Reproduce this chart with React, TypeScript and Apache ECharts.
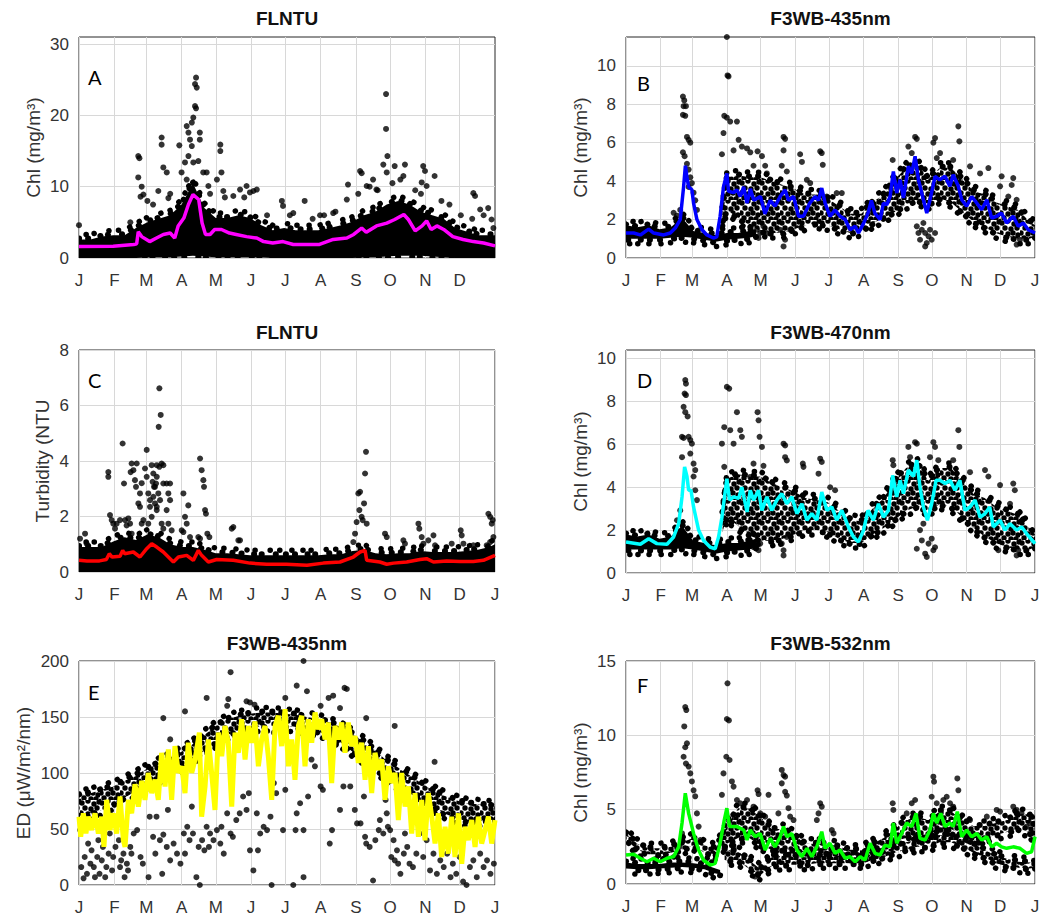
import React, { useEffect, useRef } from 'react';
import * as echarts from 'echarts';

const MONTH_DAYS = [0, 31, 59, 90, 120, 151, 181, 212, 243, 273, 304, 334, 365];
const MONTH_LABELS = ['J', 'F', 'M', 'A', 'M', 'J', 'J', 'A', 'S', 'O', 'N', 'D', 'J'];

const titles = ['FLNTU', 'F3WB-435nm', 'FLNTU', 'F3WB-470nm', 'F3WB-435nm', 'F3WB-532nm'];
const letters = ['A', 'B', 'C', 'D', 'E', 'F'];
const yNames = ['Chl (mg/m³)', 'Chl (mg/m³)', 'Turbidity (NTU', 'Chl (mg/m³)', 'ED (μW/m²/nm)', 'Chl (mg/m³)'];
const yTicksA = [0, 10, 20, 30];
const yTicksB = [0, 2, 4, 6, 8, 10];
const yTicksC = [0, 2, 4, 6, 8];
const yTicksD = [0, 2, 4, 6, 8, 10];
const yTicksE = [0, 50, 100, 150, 200];
const yTicksF = [0, 5, 10, 15];

// ---------- Panel A (FLNTU chl) ----------
const aLine = [[0,1.6],[30,1.65],[48,1.9],[50.6,2.0],[52,3.7],[55,3.0],[62,2.3],[68,2.8],[74,3.3],[80,3.5],[84,2.8],[87,4.5],[92,5.6],[96,7.5],[100,8.9],[105,8.2],[108,4.9],[111,3.3],[115,3.3],[119,4.0],[125,4.0],[132,3.5],[138,3.3],[147,3.0],[156,2.8],[162,2.3],[170,2.1],[179,2.3],[188,1.9],[200,1.9],[211,1.9],[223,2.6],[235,2.8],[241,3.3],[248,4.2],[252,3.6],[261,4.5],[270,4.9],[277,5.4],[285,6.1],[289,5.4],[295,3.8],[301,4.5],[305,5.2],[309,4.0],[314,4.5],[320,4.0],[328,3.0],[337,2.6],[346,2.3],[355,2.1],[365,1.7]];
const aBand = [[0,0,2.6],[10,0,2.6],[20,0,3.0],[30,0,3.2],[40,0,3.2],[50,0,4.2],[60,0.1,5.0],[70,0.1,5.5],[80,0.1,6.0],[90,0.2,7.5],[100,0.3,10.5],[110,0.2,7.0],[120,0.1,5.6],[130,0.1,5.6],[140,0.1,6.0],[150,0.1,5.6],[160,0.1,4.6],[170,0,3.9],[180,0,4.2],[190,0,3.9],[200,0,3.9],[210,0,3.9],[220,0,4.2],[230,0,4.6],[240,0,5.1],[250,0.1,6.0],[260,0.1,6.5],[270,0.2,7.5],[280,0.3,8.0],[290,0.3,7.5],[300,0.3,6.5],[310,0.2,6.0],[320,0.1,5.5],[330,0,4.2],[340,0,3.7],[350,0,3.2],[360,0,3.2],[365,0,3.2]];
const aDots = [[0,4.6],[52,14.3],[53,14.0],[52,11.3],[55,10],[56.5,8.9],[54,8.6],[72.5,16.9],[72.5,15.9],[74,12.7],[77,12.0],[78.4,8.4],[69.6,9.4],[88,15.8],[94.5,18.5],[96,17.6],[97.4,16.6],[99,19.0],[100.3,19.7],[101.8,21.3],[102.7,21.0],[101.8,24.4],[102.7,25.3],[103.3,23.9],[99,15.7],[96,14.3],[100.3,13.4],[106,17.6],[106,16.6],[93,13.4],[90,12.0],[94.5,11.0],[104.7,13.6],[109,12.0],[112,12.0],[113.5,10.1],[124,15.9],[124,15.0],[125,12.0],[121,11.0],[126.6,9.4],[135.4,8.7],[141.3,9.6],[147,10.1],[153,9.4],[156,9.6],[178,8.0],[179,7.3],[188,6.3],[198,8.0],[211.5,6.0],[223,6.3],[235,8.2],[236,10.3],[246.6,12.2],[248,11.9],[252.4,10.1],[258,11.0],[261,9.6],[269.4,23.0],[269.4,18.1],[270.6,14.3],[267,13.1],[270,12.0],[277,12.9],[286,13.1],[284.6,11.5],[302,12.9],[303.6,12.2],[305,10.1],[312,11.5],[300.7,10.6],[346,9.1],[347.5,8.7],[352,6.8],[359,7.0],[362,5.4],[363.6,4.2],[45,5],[60,8],[65,7.5],[80,9],[115,9],[128,8.5],[145,8.5],[150,9.2],[165,6],[185,6],[205,5.5],[215,6],[225,6.5],[245,9],[255,10],[262,9.5],[275,10.5],[282,11],[295,9.5],[300,9],[318,8],[325,7.5],[335,6],[345,5.5],[355,6]];

// ---------- Panel B (F3WB-435nm chl) ----------
const bLine = [[0,1.3],[6.8,1.3],[12.8,1.2],[20.2,1.5],[24.7,1.3],[33.6,1.2],[39.5,1.3],[44,1.56],[48.4,2.0],[51.4,3.7],[53,4.8],[54.4,4.2],[55.9,3.7],[58.8,3.55],[60.3,2.86],[63.3,2.0],[67.8,1.47],[72.2,1.2],[78,1.04],[81,1.1],[84,2.17],[87,3.7],[90,4.4],[91.5,3.47],[96,3.4],[99,3.55],[102,3.2],[105,3.7],[108,2.86],[111,3.6],[114,3.0],[120,3.2],[124,2.3],[128.7,3.0],[133,2.7],[137.6,3.2],[142,3.55],[145,3.0],[149.5,3.2],[154,2.17],[158.4,2.17],[164,2.86],[168.8,3.2],[171.8,3.0],[174.7,3.64],[177.7,2.86],[182,2.17],[186.6,2.5],[191,2.17],[195.6,2.0],[200,1.47],[204.5,1.65],[207.5,1.3],[212,1.8],[216,2.34],[219,3.0],[222,2.34],[226.8,2.0],[229.7,2.86],[232.7,2.77],[235.7,3.2],[238.6,4.5],[241.6,3.38],[244.6,4.07],[247.6,3.12],[252,4.77],[255,4.4],[258,5.29],[261,4.07],[265.4,3.03],[268.4,2.34],[271.3,3.03],[275.8,4.25],[280,4.07],[284.7,4.25],[289,3.73],[292,4.33],[296.6,3.73],[299.6,3.03],[304,2.69],[308.5,3.2],[313,2.86],[317.4,2.51],[322,3.03],[326.3,2.08],[330.8,2.17],[335,2.34],[339.7,1.82],[345.6,2.17],[350,1.65],[354.6,1.82],[359,1.47],[365,1.3]];
const bBandLow = [[0,1.0,1.7],[10,1.0,1.6],[20,1.0,1.7],[30,1.0,1.5],[40,1.05,1.6],[50,1.1,2.1],[60,1.05,1.4],[70,0.95,1.3],[80,0.85,1.2],[90,0.95,1.3],[100,1.0,1.3],[110,1.05,1.4],[116,1.15,1.5]];
const bBandMain = [[86,1.9,2.6],[90,2.5,4.2],[100,2.1,4.3],[110,1.7,4.2],[120,1.4,4.2],[130,1.3,4.0],[140,1.3,3.8],[150,1.5,3.6],[160,1.7,3.3],[170,1.8,3.3],[180,1.7,3.1],[190,1.5,2.7],[200,1.3,2.3],[210,1.4,2.3],[220,1.8,2.9],[230,2.1,3.3],[240,2.4,4.1],[250,2.8,4.7],[260,3.0,4.9],[270,2.8,4.1],[280,3.1,4.7],[290,2.9,4.7],[300,2.4,4.1],[310,1.9,3.5],[320,1.6,3.3],[330,1.3,2.9],[340,1.1,2.7],[350,1.0,2.5],[360,1.0,1.9],[365,1.1,1.7]];
const bDots = [[50.8,8.4],[52,8.2],[51.4,7.9],[53.5,7.9],[50.8,7.45],[52.9,7.4],[54.4,6.3],[55.9,6.15],[57.4,6.0],[50.8,5.5],[52.3,5.3],[54.4,4.9],[55.9,4.6],[57.4,4.2],[58.8,3.9],[60.3,3.4],[61.8,3.0],[48.4,2.5],[45.5,2.2],[42.5,2.35],[55.9,3.7],[63.3,2.5],[90,11.5],[90.6,9.5],[91.5,9.45],[87.7,7.4],[90,7.3],[93,7.1],[99,7.1],[87,6.5],[85.6,5.4],[96,5.6],[100.5,6.15],[103.4,5.8],[108,5.7],[110.9,5.5],[113.8,4.8],[117.4,5.55],[121.3,5.3],[124.2,4.8],[125.7,4.4],[116.8,1.47],[118.3,1.04],[119.8,1.3],[125.7,1.3],[122.7,1.65],[140.6,6.3],[142,6.2],[140.6,5.6],[139,4.8],[143.5,4.5],[140.6,0.6],[142,0.95],[137.6,1.47],[146.5,1.47],[155.4,5.4],[157,5.0],[161.4,4.07],[164.4,3.9],[173.3,5.55],[174.7,5.46],[175.6,4.85],[179.2,3.2],[188,3.38],[192.6,3.38],[238,5.1],[252,5.8],[255,5.46],[258,6.3],[259.5,6.2],[274.3,6.0],[275.8,6.24],[277.3,5.2],[280.3,5.46],[259.5,1.65],[261,1.3],[262.4,0.95],[264,1.47],[267,1.3],[267,0.6],[268.4,0.78],[270,1.13],[271.3,1.47],[272.8,0.95],[275.8,1.3],[265.4,1.82],[296.6,6.85],[297.5,6.07],[292,5.1],[307,4.77],[316,4.4],[323.4,4.68],[333.8,3.73],[335.2,4.25],[344.2,3.8],[345.6,4.16],[348.6,3.03],[341.2,3.2],[351.6,0.95],[348.6,0.7]];

// ---------- Panel C (FLNTU turbidity) ----------
const cLine = [[0,0.42],[7,0.4],[18,0.4],[24,0.45],[26.6,0.66],[29,0.54],[36,0.57],[38.3,0.78],[40,0.66],[47.7,0.72],[53.5,0.54],[59.4,0.84],[63.8,1.02],[68.2,0.9],[74,0.72],[78.4,0.54],[82.8,0.36],[87.2,0.54],[94.5,0.6],[100.3,0.42],[104.7,0.78],[107.6,0.6],[113.5,0.36],[120.8,0.45],[135.4,0.42],[150,0.32],[164.7,0.28],[182,0.28],[200,0.24],[214.4,0.32],[229,0.36],[240.7,0.54],[246.6,0.72],[251,0.78],[252.4,0.42],[264,0.36],[270,0.28],[276,0.32],[287.5,0.36],[299.2,0.45],[305,0.48],[311,0.36],[322.6,0.4],[334.3,0.38],[346,0.38],[354.8,0.42],[365,0.6]];
const cBand = [[0,0,0.9],[10,0,0.9],[20,0,0.9],[30,0,1.1],[40,0,1.25],[50,0,1.15],[60,0,1.35],[70,0,1.25],[80,0,1.0],[90,0,0.9],[100,0,0.9],[110,0,0.8],[120,0,0.68],[130,0,0.68],[140,0,0.64],[150,0,0.6],[160,0,0.6],[170,0,0.6],[180,0,0.6],[190,0,0.6],[200,0,0.6],[210,0,0.6],[220,0,0.64],[230,0,0.64],[240,0,0.76],[250,0,0.8],[260,0,0.68],[270,0,0.64],[280,0,0.68],[290,0,0.68],[300,0,0.76],[310,0,0.72],[320,0,0.72],[330,0,0.72],[340,0,0.76],[350,0,0.8],[360,0,0.9],[365,0,1.0]];
const cDots = [[5.3,1.38],[0.9,1.2],[6.7,1.02],[25.7,3.6],[25.7,3.43],[27.2,2.05],[28.7,1.87],[30.1,1.74],[31.6,1.56],[38.3,4.63],[39.5,3.19],[33,1.74],[36,1.87],[40.4,1.87],[41.8,1.68],[43.3,1.93],[44.8,1.74],[46.2,1.38],[45.3,3.6],[47.7,3.67],[46.2,3.91],[50.6,3.91],[49.1,3.31],[50,3.07],[53.5,2.83],[55,3.2],[52.1,2.47],[53.5,2.35],[56.5,1.87],[55,1.74],[59.4,4.4],[57.9,3.73],[59.4,3.43],[60.8,2.83],[62.3,2.59],[62.3,2.35],[63.8,1.99],[60.8,1.74],[63.8,3.85],[65.2,3.55],[65.8,3.07],[65.2,2.71],[66.7,2.47],[68.2,2.23],[66.7,3.07],[64.6,3.25],[70.5,6.62],[71.7,5.66],[69.9,5.23],[72.5,3.91],[70.5,3.79],[74,3.85],[68.2,3.85],[68.2,3.43],[67.6,3.19],[69.6,2.83],[71.1,2.59],[68.2,2.35],[72.5,1.74],[74,1.56],[74,3.19],[76.9,3.19],[79.9,3.19],[78.4,2.83],[79.9,2.59],[76.9,2.23],[78.4,1.74],[81.3,1.5],[91.6,2.83],[93,1.99],[95.9,2.4],[94.5,1.74],[90.1,1.5],[91.6,1.44],[97.4,1.26],[106.2,4.09],[107.6,3.67],[109.1,3.31],[109.7,3.07],[110.6,2.23],[111.4,2.1],[112.6,1.38],[114.4,1.26],[104.7,1.26],[106.2,1.2],[134,1.56],[141.3,1.14],[135.4,1.62],[139.8,1.14],[240.7,1.08],[242.2,1.38],[243.6,1.8],[245.1,2.83],[246.6,2.89],[246,2.23],[248,1.99],[248.9,1.87],[250.1,2.47],[251,3.55],[251.8,4.33],[252.4,1.74],[268.5,1.38],[270,1.26],[284.6,1.14],[286,1.02],[297.8,1.74],[298.6,1.56],[300.7,1.26],[302.2,1.02],[311,1.32],[312.4,0.96],[306.5,1.14],[334.9,1.5],[335.8,1.32],[337.3,1.02],[327,1.02],[359.2,2.1],[360.7,1.99],[362.1,1.74],[363,1.87],[363.6,1.26],[360.7,1.08],[357.7,0.96],[346,0.96]];

// ---------- Panel D (F3WB-470nm chl) ----------
const dLine = [[0,1.45],[12.8,1.34],[20.2,1.6],[27.6,1.37],[36.6,1.34],[42.5,1.68],[47,2.3],[50,3.55],[52.3,4.95],[54.4,4.5],[55.9,3.86],[58,3.86],[60.3,3.08],[64.8,2.0],[69.2,1.52],[75.2,1.2],[79.6,1.13],[82.6,1.68],[85.6,2.6],[90,4.4],[92.4,3.4],[96,3.55],[100.5,3.48],[103.4,4.0],[108,2.85],[110.9,3.86],[113.8,3.4],[118.3,3.86],[121.3,2.92],[125.7,3.55],[130,2.92],[134.6,3.4],[139,3.7],[143.5,3.23],[148,3.55],[152.5,2.77],[157,3.23],[161.4,2.46],[165.8,2.77],[170.3,2.46],[174.7,3.78],[179.2,2.92],[183.7,3.08],[188,2.46],[192.6,2.92],[198.5,2.15],[203,1.68],[207.5,1.45],[212,2.0],[216,2.92],[220.8,2.46],[225.3,3.23],[229.7,2.6],[234.2,2.92],[238,4.55],[241.6,3.55],[244.6,4.32],[247.6,3.7],[252,4.8],[256.5,4.5],[259.5,5.26],[262.4,4.0],[265.4,3.08],[269,2.46],[272.8,3.23],[276.7,4.32],[280.3,4.32],[284.7,4.17],[289.2,4.32],[293.6,3.86],[298,4.32],[302.5,2.92],[307,3.08],[311.5,3.4],[316,2.6],[320.4,2.77],[324.6,3.08],[327.8,2.15],[333.8,2.46],[338.2,2.0],[342.7,2.3],[348.6,2.0],[353,2.15],[357.5,1.84],[365,1.37]];
const dBandLow = [[0,1.1,1.8],[10,1.1,1.7],[20,1.1,1.8],[30,1.1,1.6],[40,1.1,1.7],[50,1.15,2.2],[60,1.1,1.5],[70,1.0,1.4],[80,0.9,1.3],[90,1.0,1.4],[100,1.05,1.4],[110,1.1,1.5],[116,1.2,1.6]];
const dBandMain = [[86,1.9,2.8],[90,2.6,4.4],[100,2.2,4.6],[110,1.8,4.5],[120,1.5,4.5],[130,1.5,4.2],[140,1.6,4.0],[150,1.8,3.8],[160,2.0,3.5],[170,2.0,3.4],[180,1.9,3.3],[190,1.6,2.9],[200,1.4,2.5],[210,1.4,2.4],[220,1.8,3.0],[230,2.1,3.5],[240,2.5,4.3],[250,2.9,4.9],[260,3.1,5.1],[270,2.9,4.3],[280,3.2,4.9],[290,3.1,4.9],[300,2.6,4.3],[310,2.1,3.7],[320,1.7,3.5],[330,1.4,3.1],[340,1.2,2.9],[350,1.1,2.7],[360,1.1,2.1],[365,1.2,1.8]];
const dDots = [[52.9,9.0],[53.5,8.83],[52.3,8.37],[53.5,8.3],[51.4,7.75],[52.9,7.5],[55,7.3],[50,6.35],[51.4,6.3],[55.9,6.35],[57.4,6.2],[58.8,6.03],[50,5.4],[57.4,5.57],[60.3,5.1],[61.8,4.8],[60.3,4.5],[61.8,3.86],[63.3,3.4],[45.5,2.46],[48.4,2.92],[90.6,10.5],[90,8.68],[92.1,8.6],[87.7,6.8],[85.6,6.03],[93,6.66],[99,7.5],[102,6.66],[103.4,6.35],[87.7,4.95],[96,6.03],[117.4,7.5],[118.3,7.12],[119.2,6.35],[121.3,5.88],[113.8,5.1],[110.9,4.48],[122.7,5.0],[113.8,1.2],[119.8,1.37],[118.3,1.06],[140.6,1.06],[140.6,0.82],[139,1.37],[143.5,1.68],[140.6,6.03],[142,5.95],[142,5.4],[143.5,5.25],[157.8,5.1],[158.4,4.95],[173.3,5.33],[174.7,5.18],[171.8,4.63],[182.2,4.0],[186.6,3.86],[238,5.26],[238.6,5.03],[252,5.88],[253.5,5.4],[258,6.1],[259.5,6.03],[274.3,6.1],[275.8,5.88],[271.3,5.4],[278.7,5.26],[259.5,1.13],[262.4,2.0],[264,1.52],[267,0.9],[268.4,0.75],[270,1.37],[272.8,1.6],[274.3,1.06],[275.8,1.2],[265.4,2.3],[296.6,6.66],[297.5,5.88],[292,5.26],[307,4.7],[320.4,4.8],[323.4,4.5],[333.8,4.1],[345.6,4.17],[347,3.86],[342.7,3.23],[348.6,0.82],[350.1,1.06],[332.3,1.06],[339.7,1.2]];

// ---------- Panel E (F3WB-435nm irradiance) ----------
const eLine = [[0,61],[1.5,43],[3.8,64],[6.1,46],[8.2,61],[11.1,49],[14,64],[17,46],[19.9,61],[21.9,34],[24.3,76],[27.2,49],[30.1,64],[33,46],[36,79],[38.9,40],[40.4,34],[43.3,76],[46.2,64],[49.1,90],[52.1,70],[55,93],[57.9,76],[60.8,100],[63.8,82],[66.7,94],[69.6,76],[72.5,118],[75.5,88],[78.4,121],[81.3,76],[84.2,124],[87.2,100],[90.1,106],[93,82],[95.9,127],[98.9,100],[101.8,112],[105.6,136],[107.6,61],[110.6,88],[113.5,130],[116.4,100],[119.3,67],[122.3,136],[125.2,115],[128.1,142],[131,127],[134,70],[136.9,136],[139.8,118],[142.7,148],[145.7,112],[148.6,142],[151.5,127],[154.4,146],[157.4,106],[160.3,130],[163.2,142],[166.1,115],[169.1,76],[172,142],[174.9,151],[177.8,124],[180.8,157],[183.7,106],[186.6,130],[189.5,94],[192.5,142],[195.4,151],[198.3,106],[201.2,148],[204.2,127],[207.1,154],[210,139],[212.9,148],[215.9,130],[218.8,145],[221.7,91],[224.6,142],[227.6,130],[230.5,145],[233.4,118],[236.3,145],[239.3,124],[242.2,133],[245.1,109],[248,127],[251,94],[253.9,124],[256.8,82],[259.7,118],[262.7,103],[265.6,112],[268.5,76],[271.4,106],[274.4,91],[277.3,100],[280.2,58],[283.1,100],[286.1,70],[289,88],[291.9,46],[294.8,82],[297.8,43],[300.7,76],[303.6,40],[306.5,82],[309.5,61],[312.4,37],[315.3,64],[318.2,25],[321.2,52],[324.1,28],[327,61],[329.9,25],[332.9,64],[335.8,19],[338.7,52],[341.6,40],[344.6,58],[347.5,34],[350.4,61],[353.3,37],[356.3,49],[359.2,61],[362.1,37],[365,58]];
const eBand = [[0,60,80],[10,64,82],[20,67,85],[30,72,88],[40,78,93],[50,84,98],[60,90,104],[70,95,109],[80,100,114],[90,105,119],[100,112,126],[110,120,134],[120,127,142],[130,134,148],[140,138,151],[150,140,153],[160,142,154],[170,142,154],[180,142,153],[190,141,152],[200,139,150],[210,137,148],[220,133,145],[230,127,141],[240,119,135],[250,112,128],[260,104,120],[270,96,111],[280,89,105],[290,82,98],[300,76,91],[310,70,85],[320,64,80],[330,60,76],[340,57,73],[350,57,72],[360,58,71],[365,58,70]];
const eDots = [[1,49],[2,16],[4,6],[5,25],[7,10],[8,37],[10,19],[11,31],[13,16],[14,7],[16,25],[17,40],[18,10],[20,22],[21,34],[23,7],[24,16],[26,28],[27,46],[29,13],[30,25],[32,34],[35,40],[36,16],[37,22],[39,28],[40,7],[42,19],[43,13],[45,34],[46,28],[48,46],[51,49],[54,25],[56,19],[61,7],[62,61],[65,43],[67,28],[68,61],[71,40],[73,10],[74,45],[77,34],[78,67],[80,22],[83,37],[86,28],[89,19],[92,46],[93,28],[95,52],[97,40],[99,70],[100,46],[103,7],[105,34],[106,0],[108,40],[110,31],[112,52],[114,34],[115,46],[118,40],[121,49],[124,37],[125,52],[127,28],[130,64],[133,46],[135,43],[138,58],[141,64],[144,79],[147,67],[149,82],[150,31],[153,13],[156,64],[157,31],[159,46],[162,52],[165,49],[168,61],[169,0],[171,91],[173,82],[179,49],[181,85],[188,0],[190,49],[191,64],[194,73],[197,7],[197,49],[201,79],[204,112],[207,106],[212,88],[214,85],[220,37],[222,49],[229,67],[232,88],[238,88],[242,67],[244,55],[247,55],[250,79],[251,43],[252,37],[255,34],[258,4],[260,40],[263,49],[264,58],[267,46],[269,76],[270,64],[271,52],[273,49],[274,25],[276,40],[277,22],[279,31],[280,19],[282,10],[285,28],[286,46],[288,34],[290,19],[293,16],[296,28],[299,46],[302,25],[305,40],[308,13],[311,28],[314,10],[317,22],[320,16],[323,28],[326,7],[328,19],[331,10],[334,25],[337,3],[340,0],[343,16],[346,22],[349,7],[352,28],[355,16],[358,22],[361,10],[364,19],[133,190],[112,167],[131,166],[130,160],[147,164],[150,163],[181,167],[191,178],[197,200],[200,173],[219,167],[233,176],[235,175],[229,158],[252,149],[312,110],[277,142],[80,130],[74,149],[93,155],[154,161],[171,136],[212,160],[223,169]];

// ---------- Panel F (F3WB-532nm chl) ----------
const fLine = [[0,1.95],[6.8,2.0],[12.8,1.73],[18.7,1.5],[24.7,1.73],[30.6,1.5],[36.6,1.73],[42.5,1.84],[47,2.5],[50,4.1],[52.9,6.1],[55.9,4.75],[60.3,3.4],[64.8,2.29],[69.2,1.6],[75.2,1.28],[79.6,1.39],[84,2.74],[87.7,4.3],[90,5.1],[92.4,3.86],[99,3.86],[105,3.63],[108,2.96],[110.9,3.63],[115.3,3.18],[119.8,3.4],[124.2,2.29],[128.7,3.07],[133,2.5],[137.6,3.18],[140.6,3.86],[143.5,3.18],[148,3.4],[152.5,2.29],[157,1.84],[161.4,2.4],[165.8,1.84],[170.3,2.5],[174.7,3.52],[177.7,2.4],[182,2.74],[186.6,2.06],[191,2.29],[195.6,1.73],[200,1.84],[204.5,1.5],[209,1.84],[213.4,1.61],[217.8,2.74],[222.3,2.06],[226.8,1.95],[231.2,2.62],[235.7,2.5],[238.6,4.1],[241.6,2.74],[246,3.4],[250.5,4.1],[255,3.86],[258.8,4.75],[262.4,3.07],[267,2.96],[271.3,3.63],[274.3,4.75],[277.3,4.1],[280.9,4.75],[284.7,3.86],[289.2,4.1],[292,3.86],[295.7,4.87],[299.6,3.18],[304,3.63],[308.5,3.18],[313,3.4],[317.4,2.96],[322,3.18],[326.3,2.5],[330.8,2.74],[335.2,2.5],[339.7,2.4],[345.6,2.5],[351.6,2.4],[357.5,2.06],[362,2.17],[365,3.18]];
const fBandLowEarly = [[0,1.05,1.45],[10,1.0,1.35],[20,1.0,1.35],[30,1.05,1.35],[40,1.1,1.45],[50,1.15,1.45],[60,1.1,1.4],[70,1.0,1.3],[80,0.7,1.05],[84,0.65,0.95]];
const fBandLowLate = [[88,1.6,2.3],[100,1.6,2.2],[110,1.0,1.6],[120,0.6,1.0],[130,1.2,1.8],[140,1.3,1.9],[150,1.3,1.9],[160,1.3,1.8],[170,1.4,1.9],[180,1.4,1.9],[190,1.4,1.9],[200,1.4,1.8],[210,1.4,1.8],[220,1.6,2.0],[230,1.8,2.2],[240,2.1,2.5],[250,2.3,2.8],[260,2.5,3.0],[270,2.5,3.1],[280,2.8,3.3],[290,2.8,3.3],[300,2.5,3.0],[310,2.1,2.7],[320,1.8,2.3],[330,1.4,1.9],[340,1.2,1.7],[350,1.1,1.5],[360,1.05,1.45],[365,1.1,1.5]];
const fBandHigh = [[0,3.0,3.4],[10,2.3,2.7],[20,2.0,2.4],[30,2.0,2.4],[40,2.1,2.5],[50,2.3,2.8],[60,2.6,3.1],[70,2.1,2.6],[80,2.0,2.4],[90,2.7,3.9],[100,3.1,5.1],[110,3.1,5.1],[120,2.6,4.5],[130,2.3,3.7],[140,2.3,3.7],[150,2.3,3.3],[160,2.1,2.7],[170,2.1,2.7],[180,2.1,2.7],[190,2.1,2.5],[200,1.9,2.3],[210,1.9,2.3],[220,2.1,2.7],[230,2.5,3.1],[240,2.9,3.7],[250,3.1,4.3],[260,3.3,4.5],[270,3.3,4.3],[280,3.7,4.9],[290,3.7,4.9],[300,3.3,4.3],[310,3.1,3.9],[320,3.1,3.9],[330,3.3,4.1],[340,3.5,4.3],[350,3.7,4.7],[360,3.5,4.7],[365,2.9,3.7]];
const fDots = [[52.9,11.9],[53.8,11.7],[52,10.6],[52.9,9.2],[54.4,9.46],[51.4,8.56],[53.5,8.1],[55.9,7.9],[57.4,7.44],[58.8,6.9],[60.3,6.3],[61.8,5.9],[63.3,4.75],[64.8,3.86],[66.3,2.96],[50,3.4],[47.8,2.5],[90.6,13.5],[90,11.1],[91.8,11.0],[89.5,8.56],[92.4,8.34],[87,7.44],[85.6,6.0],[94.5,6.9],[96,6.55],[99,5.65],[102,5.43],[108,5.65],[113.8,5.2],[117.4,6.3],[118.3,6.05],[119.8,4.75],[127.2,6.0],[124.2,4.53],[139,7.67],[140.6,7.33],[142,7.22],[139,6.77],[142,6.2],[143.5,5.95],[145,5.1],[146.5,4.53],[136,4.75],[149.5,4.3],[115.3,0.5],[118.3,0.72],[173.3,5.43],[174.7,5.2],[171.8,4.75],[170.3,4.3],[183.7,3.63],[185.2,3.4],[238,5.43],[238.6,4.98],[255,5.43],[258,5.65],[250.5,4.75],[274.3,7.22],[274.9,6.88],[272.8,5.87],[277.3,5.43],[283.2,5.65],[286.2,5.87],[289.2,5.43],[295.7,7.1],[296.6,6.3],[292,5.2],[307,4.3],[322,4.53],[330.8,4.98],[333.8,4.87],[345.6,5.2],[348.6,4.98],[353,4.75],[357.5,3.86],[360.5,4.1]];

const panels = [
  { line: aLine, bands: [aBand], fills: ['solid'], dots: aDots, yMax: 31, yTicks: yTicksA, color: '#ff00ff', lw: 3.5, xTicks: MONTH_DAYS.slice(0, 12), grid: { left: 79, top: 37, width: 416, height: 221 }, nameGap: 36, titleY: 18, letterXY: [88, 67] },
  { line: bLine, bands: [bBandLow, bBandMain], fills: ['solid', 'cloud'], dots: bDots, yMax: 11.5, yTicks: yTicksB, color: '#0000ff', lw: 3.5, xTicks: MONTH_DAYS, grid: { left: 626, top: 37, width: 409, height: 221 }, nameGap: 36, titleY: 18, letterXY: [637, 73] },
  { line: cLine, bands: [cBand], fills: ['solid'], dots: cDots, yMax: 8, yTicks: yTicksC, color: '#ff0000', lw: 3.5, xTicks: MONTH_DAYS, grid: { left: 79, top: 350, width: 416, height: 222 }, nameGap: 27, titleY: 332, letterXY: [88, 370] },
  { line: dLine, bands: [dBandLow, dBandMain], fills: ['solid', 'cloud'], dots: dDots, yMax: 10.4, yTicks: yTicksD, color: '#00ffff', lw: 3.5, xTicks: MONTH_DAYS, grid: { left: 626, top: 350, width: 409, height: 223 }, nameGap: 36, titleY: 332, letterXY: [637, 370] },
  { line: eLine, bands: [eBand], fills: ['cloud'], dots: eDots, yMax: 200, yTicks: yTicksE, color: '#ffff00', lw: 5, xTicks: MONTH_DAYS, grid: { left: 79, top: 661, width: 416, height: 224 }, nameGap: 46, titleY: 643, letterXY: [88, 682] },
  { line: fLine, bands: [fBandLowEarly, fBandLowLate, fBandHigh], fills: ['solid', 'cloud', 'cloud'], dots: fDots, yMax: 15, yTicks: yTicksF, color: '#00ff00', lw: 3.5, xTicks: MONTH_DAYS, grid: { left: 626, top: 661, width: 409, height: 223 }, nameGap: 36, titleY: 643, letterXY: [637, 675] },
];

const FONT = '"Liberation Sans", Arial, Helvetica, sans-serif';
const TXT = '#333333';
// texture of the dense point clouds (style only)
const CLOUD_TILE = 20;
const CLOUD_SPOTS = [[2,3],[8,1],[14,4],[19,2],[5,8],[11,9],[17,8],[1,13],[8,14],[13,13],[18,15],[4,18],[11,19],[16,19],[21,21],[-1,-1],[21,-1],[-1,21]];
const EDGE_DASH_1 = [0.1, 9, 0.1, 12.5, 0.1, 7.5, 0.1, 14, 0.1, 10];
const EDGE_DASH_2 = [0.1, 11, 0.1, 8, 0.1, 15, 0.1, 9.5, 0.1, 12];

function makeCloudPattern(): any {
  const c = document.createElement('canvas');
  c.width = CLOUD_TILE; c.height = CLOUD_TILE;
  const ctx = c.getContext('2d')!;
  ctx.fillStyle = '#000';
  CLOUD_SPOTS.forEach(([x, y]) => { ctx.beginPath(); ctx.arc(x, y, 2.7, 0, Math.PI * 2); ctx.fill(); });
  return { image: c, repeat: 'repeat', imageWidth: CLOUD_TILE, imageHeight: CLOUD_TILE };
}

function bandSeries(band: number[][], gi: number, fill: any) {
  return {
    type: 'custom',
    xAxisIndex: gi,
    yAxisIndex: gi,
    z: 1,
    silent: true,
    clip: true,
    data: [band[0]],
    encode: { x: 0, y: [1, 2] },
    renderItem: (_params: any, api: any) => {
      const top = band.map((r) => api.coord([r[0], r[2]]));
      const bot = band.slice().reverse().map((r) => api.coord([r[0], r[1]]));
      const e1 = { stroke: '#000', fill: null, lineWidth: 6, lineDash: EDGE_DASH_1, lineCap: 'round' };
      const e2 = { stroke: '#000', fill: null, lineWidth: 5.5, lineDash: EDGE_DASH_2, lineDashOffset: 4, lineCap: 'round' };
      return {
        type: 'group',
        children: [
          { type: 'polygon', shape: { points: top.concat(bot) }, style: { fill, stroke: null } },
          { type: 'polyline', shape: { points: top }, style: e1, y: -1 },
          { type: 'polyline', shape: { points: top }, style: e2, y: -5 },
          { type: 'polyline', shape: { points: bot }, style: e1, y: 1 },
          { type: 'polyline', shape: { points: bot }, style: e2, y: 5 },
        ],
      };
    },
  };
}

export default function App() {
  const ref = useRef<HTMLDivElement>(null);
  useEffect(() => {
    if (!ref.current) return;
    const chart = echarts.init(ref.current, undefined, { renderer: 'svg' });
    const cloud = makeCloudPattern();
    const grids: any[] = [];
    const xAxes: any[] = [];
    const yAxes: any[] = [];
    const series: any[] = [];
    const graphics: any[] = [];
    panels.forEach((p, i) => {
      grids.push({ ...p.grid, show: true, borderColor: '#262626', borderWidth: 1, backgroundColor: 'transparent', containLabel: false, outerBoundsMode: 'none' });
      xAxes.push({
        gridIndex: i, type: 'value', min: 0, max: 365,
        axisLine: { show: false },
        axisTick: { show: false, customValues: p.xTicks },
        axisLabel: {
          customValues: p.xTicks, margin: 14, fontSize: 17, color: TXT, fontFamily: FONT,
          formatter: (v: number) => { const k = MONTH_DAYS.indexOf(Math.round(v)); return k >= 0 ? MONTH_LABELS[k] : ''; },
        },
        splitLine: { show: true, lineStyle: { color: '#d8d8d8', width: 1 } },
      });
      yAxes.push({
        gridIndex: i, type: 'value', min: 0, max: p.yMax,
        axisLine: { show: false },
        axisTick: { show: false, customValues: p.yTicks },
        axisLabel: { customValues: p.yTicks, margin: 10, fontSize: 17, color: TXT, fontFamily: FONT },
        splitLine: { show: true, lineStyle: { color: '#d8d8d8', width: 1 } },
        name: yNames[i], nameLocation: 'middle', nameGap: p.nameGap,
        nameTextStyle: { fontSize: 19, color: TXT, fontFamily: FONT },
      });
      p.bands.forEach((b, k) => series.push(bandSeries(b, i, p.fills[k] === 'solid' ? '#000' : cloud)));
      series.push({ type: 'scatter', xAxisIndex: i, yAxisIndex: i, data: p.dots, symbol: 'circle', symbolSize: 6, itemStyle: { color: '#000' }, z: 2, silent: true });
      series.push({ type: 'line', xAxisIndex: i, yAxisIndex: i, data: p.line, symbol: 'none', lineStyle: { color: p.color, width: p.lw }, z: 3, silent: true, clip: true });
      graphics.push({ type: 'text', x: p.grid.left + p.grid.width / 2, y: p.titleY, style: { text: titles[i], fill: '#111', font: `bold 19px ${FONT}`, align: 'center', verticalAlign: 'middle' } });
      graphics.push({ type: 'text', x: p.letterXY[0], y: p.letterXY[1], style: { text: letters[i], fill: '#000', font: `20px Lato, "Open Sans", sans-serif`, align: 'left', verticalAlign: 'top' } });
    });
    chart.setOption({
      animation: false,
      backgroundColor: '#fff',
      textStyle: { fontFamily: FONT },
      grid: grids, xAxis: xAxes, yAxis: yAxes, series, graphic: graphics,
    });
    return () => chart.dispose();
  }, []);
  return <div ref={ref} style={{ position: 'absolute', left: 0, top: 0, width: 1051, height: 917 }} />;
}
